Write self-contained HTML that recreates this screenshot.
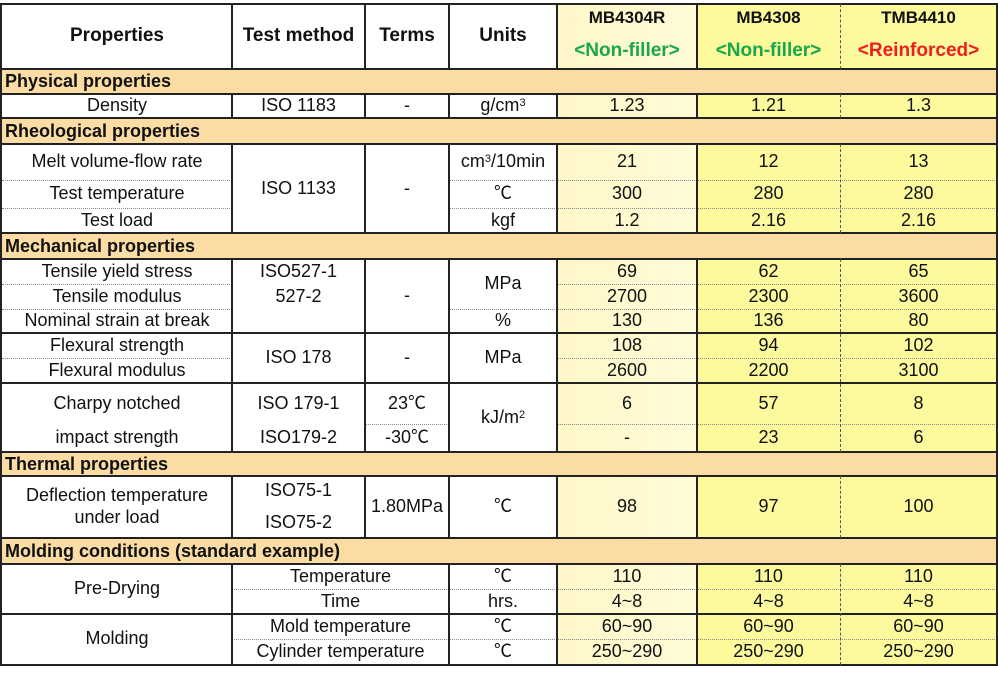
<!DOCTYPE html>
<html><head><meta charset="utf-8">
<style>
body{margin:0;width:998px;height:675px;background:#fff;position:relative;overflow:hidden;font-family:"Liberation Sans","Noto Sans CJK JP",sans-serif;color:#111}
.c{position:absolute;display:flex;align-items:center;justify-content:center;text-align:center;font-size:18px;line-height:1.2;box-sizing:border-box;white-space:nowrap}
.h{font-weight:bold;font-size:19px}
.g{font-weight:bold;font-size:17px}
.sec{position:absolute;background:#fbdca4;font-weight:bold;font-size:18px;padding-left:3px;box-sizing:border-box;display:flex;align-items:center}
.l{position:absolute;background:#222}
.d{position:absolute;border-top:1px dotted #888;height:0}
.vd{position:absolute;border-left:1px dashed #555;width:0}
sup{font-size:11px;position:relative;top:-2px}
</style></head><body>
<div style="position:absolute;left:557px;top:4px;width:140px;height:661px;background:linear-gradient(90deg,#fff7c8,#fffbd8)"></div>
<div style="position:absolute;left:697px;top:4px;width:300px;height:661px;background:#fdfa9e"></div>
<script>
const root=document.body;
function cell(x1,y1,x2,y2,html,cls,name){
  const el=document.createElement('div');
  el.className='c '+(cls||'');
  el.style.left=x1+'px';el.style.top=y1+'px';el.style.width=(x2-x1)+'px';el.style.height=(y2-y1)+'px';
  el.innerHTML=html;
  
  
  root.appendChild(el);
}
function sec(y1,y2,txt){
  const el=document.createElement('div');
  el.className='sec';
  el.style.left='2px';el.style.top=y1+'px';el.style.width='995px';el.style.height=(y2-y1)+'px';
  el.textContent=txt;
  
  
  root.appendChild(el);
}
function hl(x1,x2,y){const el=document.createElement('div');el.className='l';el.style.left=x1+'px';el.style.top=(y-1)+'px';el.style.width=(x2-x1)+'px';el.style.height='2px';
  
  
  root.appendChild(el);}
function vl(x,y1,y2){const el=document.createElement('div');el.className='l';el.style.left=(x-1)+'px';el.style.top=y1+'px';el.style.width='2px';el.style.height=(y2-y1)+'px';
  
  
  root.appendChild(el);}
function dl(x1,x2,y){const el=document.createElement('div');el.className='d';el.style.left=x1+'px';el.style.top=y+'px';el.style.width=(x2-x1)+'px';
  
  
  root.appendChild(el);}

sec(69,94,'Physical properties');
sec(118,144,'Rheological properties');
sec(233,259,'Mechanical properties');
sec(452,476,'Thermal properties');
sec(538,564,'Molding conditions (standard example)');

cell(2,4,232,69,'Properties','h','header-properties');
cell(232,4,365,69,'Test method','h','header-test-method');
cell(365,4,449,69,'Terms','h','header-terms');
cell(449,4,557,69,'Units','h','header-units');
const cols=[[557,697],[697,840],[840,997]];
const names=['MB4304R','MB4308','TMB4410'];
const types=[['&lt;Non-filler&gt;','#18a84a'],['&lt;Non-filler&gt;','#18a84a'],['&lt;Reinforced&gt;','#f01e1e']];
for(let i=0;i<3;i++){
  cell(cols[i][0],4,cols[i][1],32,names[i],'g','header-grade');
  cell(cols[i][0],34,cols[i][1],68,'<span style="color:'+types[i][1]+';font-weight:bold;font-size:19px">'+types[i][0]+'</span>','','header-grade-type');
}

const rows=[
 [94,118,'Density',['1.23','1.21','1.3']],
 [144,180,'Melt volume-flow rate',['21','12','13']],
 [180,208,'Test temperature',['300','280','280']],
 [208,233,'Test load',['1.2','2.16','2.16']],
 [259,284,'Tensile yield stress',['69','62','65']],
 [284,309,'Tensile modulus',['2700','2300','3600']],
 [309,333,'Nominal strain at break',['130','136','80']],
 [333,358,'Flexural strength',['108','94','102']],
 [358,383,'Flexural modulus',['2600','2200','3100']],
 [383,424,'Charpy notched',['6','57','8']],
 [424,452,'impact strength',['-','23','6']],
 [476,538,'Deflection temperature<br>under load',['98','97','100']],
 [564,589,null,['110','110','110']],
 [589,614,null,['4~8','4~8','4~8']],
 [614,639,null,['60~90','60~90','60~90']],
 [639,664,null,['250~290','250~290','250~290']]
];
rows.forEach(r=>{
  if(r[2]) cell(2,r[0],232,r[1],r[2],'','property-label');
  for(let i=0;i<3;i++) cell(cols[i][0],r[0],cols[i][1],r[1],r[3][i],'','value');
});
cell(232,94,365,118,'ISO 1183','','method');cell(365,94,449,118,'-','','terms');cell(449,94,557,118,'g/cm<sup>3</sup>','','units');
cell(232,144,365,233,'ISO 1133','','method');cell(365,144,449,233,'-','','terms');
cell(449,144,557,180,'cm<sup>3</sup>/10min','','units');cell(449,180,557,208,'℃','','units');cell(449,208,557,233,'kgf','','units');
cell(232,259,365,284,'ISO527-1','','method');cell(232,284,365,309,'527-2','','method');cell(365,259,449,333,'-','','terms');
cell(449,259,557,309,'MPa','','units');cell(449,309,557,333,'%','','units');
cell(232,333,365,383,'ISO 178','','method');cell(365,333,449,383,'-','','terms');cell(449,333,557,383,'MPa','','units');
cell(232,388,365,420,'ISO 179-1','','method');cell(232,424,365,452,'ISO179-2','','method');
cell(365,388,449,420,'23℃','','terms');cell(365,424,449,452,'-30℃','','terms');cell(449,383,557,452,'kJ/m<sup>2</sup>','','units');
cell(232,476,365,505,'ISO75-1','','method');cell(232,508,365,538,'ISO75-2','','method');
cell(365,476,449,538,'1.80MPa','','terms');cell(449,476,557,538,'℃','','units');
cell(2,564,232,614,'Pre-Drying','','property-label');cell(2,614,232,664,'Molding','','property-label');
cell(232,564,449,589,'Temperature','','condition');cell(232,589,449,614,'Time','','condition');
cell(232,614,449,639,'Mold temperature','','condition');cell(232,639,449,664,'Cylinder temperature','','condition');
cell(449,564,557,589,'℃','','units');cell(449,589,557,614,'hrs.','','units');
cell(449,614,557,639,'℃','','units');cell(449,639,557,664,'℃','','units');

[4,69,94,118,144,233,259,333,383,452,476,538,564,614,665].forEach(y=>hl(0,998,y));
dl(2,232,180);dl(449,997,180);dl(2,232,208);dl(449,997,208);
dl(2,232,284);dl(557,997,284);dl(2,232,309);dl(449,997,309);
dl(2,232,358);dl(557,997,358);
dl(365,449,424);dl(557,997,424);
dl(232,997,589);dl(232,997,639);
const segs=[[4,69],[94,118],[144,233],[259,452],[476,538]];
segs.forEach(s=>{vl(1,s[0],s[1]);vl(232,s[0],s[1]);vl(365,s[0],s[1]);vl(449,s[0],s[1]);vl(557,s[0],s[1]);vl(697,s[0],s[1]);vl(997,s[0],s[1]);});
[[564,665]].forEach(s=>{vl(1,s[0],s[1]);vl(232,s[0],s[1]);vl(449,s[0],s[1]);vl(557,s[0],s[1]);vl(697,s[0],s[1]);vl(997,s[0],s[1]);});
vl(1,69,564);vl(997,69,564);
[[4,69],[94,118],[144,233],[259,452],[476,538],[564,665]].forEach(s=>{const el=document.createElement('div');el.className='vd';el.style.left='840px';el.style.top=s[0]+'px';el.style.height=(s[1]-s[0])+'px';
  
  
  root.appendChild(el);});
</script>
</body></html>
